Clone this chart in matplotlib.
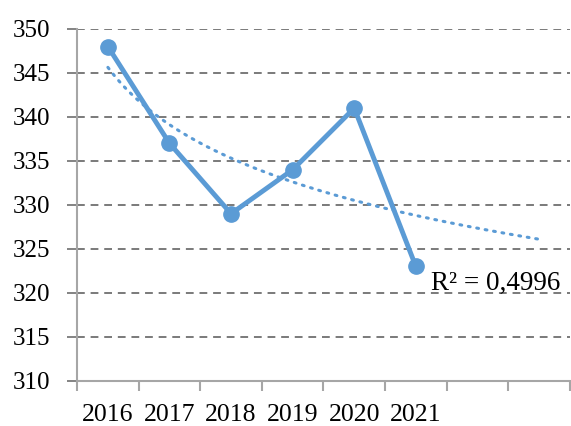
import numpy as np
import matplotlib.pyplot as plt

years = ["2016", "2017", "2018", "2019", "2020", "2021"]
values = [348, 337, 329, 334, 341, 323]
forecast_periods = 2
r2_label = "R² = 0,4996"

plt.rcParams["font.family"] = ["Liberation Serif", "DejaVu Serif"]

blue = "#5B9BD5"
x = np.arange(len(years))

# logarithmic trendline fitted on the data, extended forward
b, a = np.polyfit(np.log(x + 1), values, 1)
xt = np.linspace(0, len(years) - 1 + forecast_periods, 200)
yt = a + b * np.log(xt + 1)

fig = plt.figure(figsize=(5.71, 4.26), dpi=100)
ax = fig.add_axes([0.135, 0.106, 0.863, 0.826])

for yv in range(315, 351, 5):
    ax.axhline(yv, color="#7a7a7a", lw=1.4, ls=(0, (4, 3)), zorder=1)

ax.plot(xt, yt, color=blue, lw=2.2, ls=(0, (0.6, 2.2)), dash_capstyle="round", zorder=2)
ax.plot(x, values, color=blue, lw=3.5, marker="o", ms=11, zorder=3)

ax.text(5.24, 321.1, r2_label, fontsize=19.5, va="center", ha="left")

n_cat = len(years) + forecast_periods
ax.set_xlim(-0.5, n_cat - 0.5)
ax.set_ylim(310, 350)
ax.set_yticks(range(310, 351, 5))
ax.set_xticks(x)
ax.set_xticklabels(years)
ax.set_xticks(np.arange(-0.5, n_cat, 1), minor=True)

ax.tick_params(axis="y", length=7, width=1.3, color="#7a7a7a", pad=12, labelsize=18)
ax.tick_params(axis="x", which="major", length=0, pad=17, labelsize=18.5)
ax.tick_params(axis="x", which="minor", length=7, width=1.5, color="#a6a6a6")

for s in ["top", "right"]:
    ax.spines[s].set_visible(False)
for s in ["left", "bottom"]:
    ax.spines[s].set_color("#a6a6a6")
    ax.spines[s].set_linewidth(1.5)

fig.savefig("out.png", dpi=100)
